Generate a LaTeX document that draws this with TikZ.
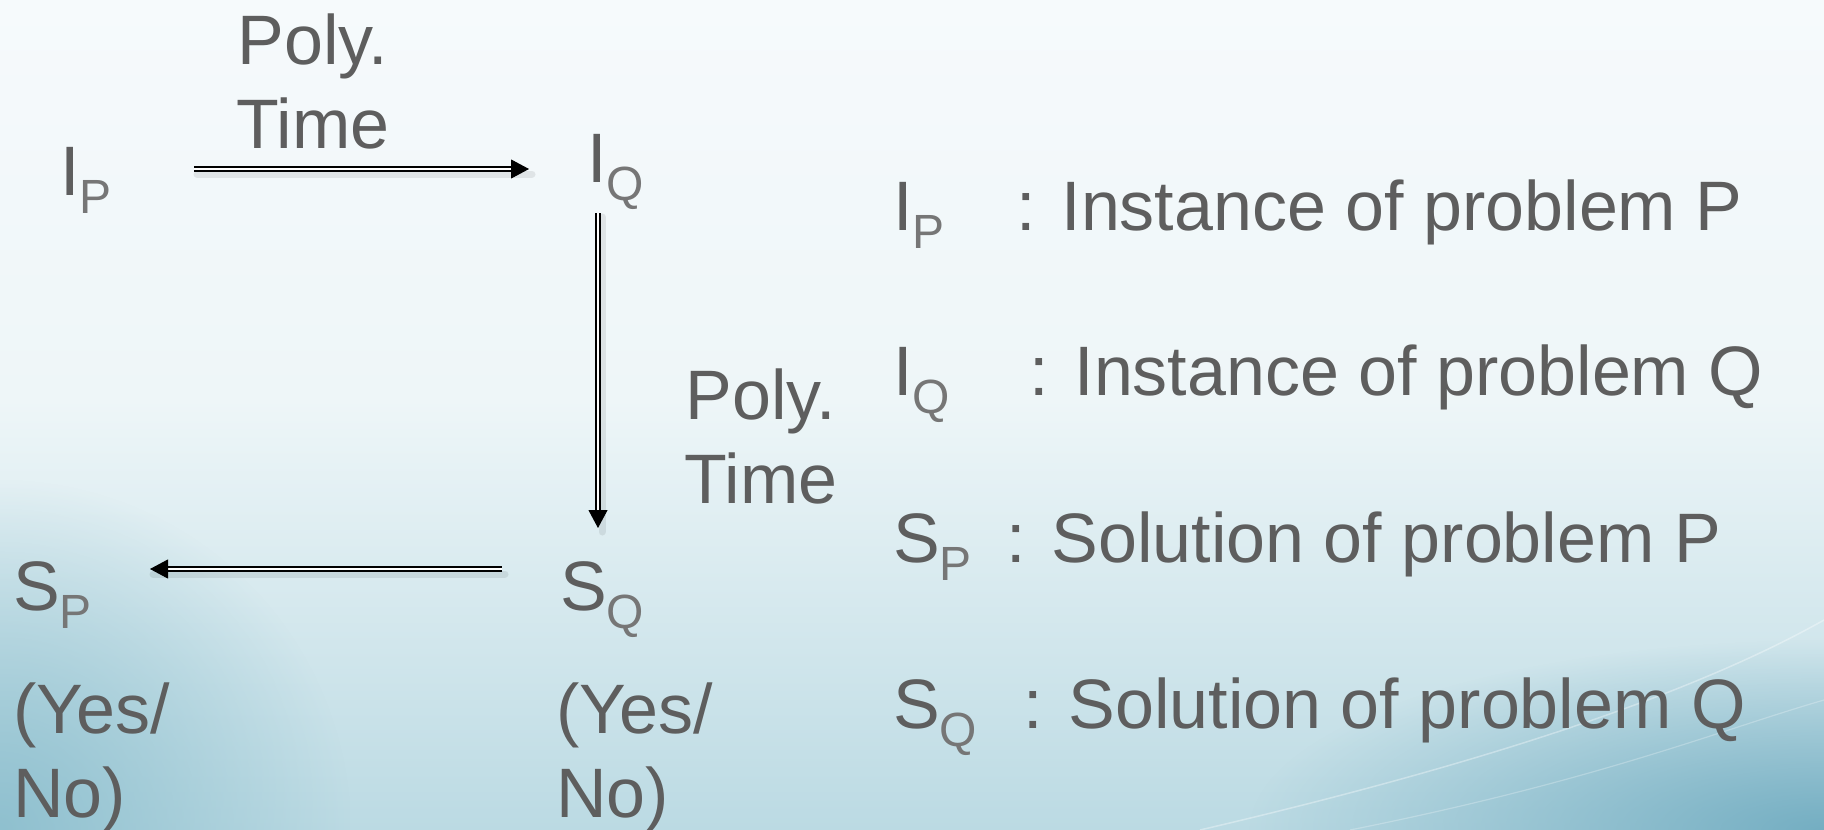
\documentclass[tikz,border=0pt]{standalone}
\usepackage{fontspec}
\setmainfont{Liberation Sans}
\usetikzlibrary{arrows.meta,fadings}
\tikzfading[name=softblob, inner color=transparent!0, outer color=transparent!100]
\definecolor{txt}{HTML}{5E5E5E}
\definecolor{subc}{HTML}{767676}
\definecolor{bgtop}{HTML}{F6FAFC}
\definecolor{bgmid}{HTML}{EEF6F8}
\definecolor{bgbot}{HTML}{BBDAE3}
\definecolor{cornerL}{HTML}{8FC0CF}
\definecolor{cornerR}{HTML}{74AEC2}
\newcommand\bigfont{\fontsize{70}{84}\selectfont}
\newcommand\sbs[1]{\raisebox{-18pt}{\fontsize{48}{48}\selectfont\color{subc}#1}}
\begin{document}
\begin{tikzpicture}[x=1pt,y=-1pt,
  lbl/.style={inner sep=0pt, anchor=base west, text=txt, font=\bigfont},
  twoline/.style={inner sep=0pt, anchor=base, text=txt, font=\bigfont, align=center},
  dbl/.style={draw=black, line width=1.7pt, double=white, double distance=1.8pt},
  tip/.style={-{Triangle[length=18pt,width=19pt]}, line width=1pt, draw=black},
  shadowline/.style={line width=7pt, black, opacity=0.08, line cap=round}]
% background
\begin{scope}
\clip (0,0) rectangle (1824,830);
\shade[top color=bgtop, bottom color=bgmid] (0,0) rectangle (1824,400);
\shade[top color=bgmid, bottom color=bgbot] (0,399) rectangle (1824,830);
\fill[cornerL, path fading=softblob] (-350,480) rectangle (350,1180);
\fill[cornerR, path fading=softblob] (1250,640) rectangle (2400,1020);
\draw[white, opacity=.35, line width=1.5pt] (1200,830) .. controls (1500,760) and (1700,690) .. (1824,620);
\draw[white, opacity=.25, line width=1.2pt] (1350,830) .. controls (1600,780) and (1720,730) .. (1824,700);
\end{scope}
\useasboundingbox (0,0) rectangle (1824,830);

% diagram nodes
\node[lbl] (IP) at (60,195) {I\sbs{P}};
\node[twoline] (t1) at (313,148) {Poly.\\Time};
\node[lbl] (IQ) at (587,182) {I\sbs{Q}};
\node[twoline] (t2) at (761,503) {Poly.\\Time};
\node[lbl] (SP) at (13,610) {S\sbs{P}};
\node[lbl] (SQ) at (560,610) {S\sbs{Q}};
\node[lbl, align=left] (YN1) at (13,817) {(Yes/\\No)};
\node[lbl, align=left] (YN2) at (556,817) {(Yes/\\No)};

% legend
\node[lbl] (lIP) at (893,230) {I\sbs{P}};
\node[lbl] (dIP) at (1016,230) {: Instance of problem P};
\node[lbl] (lIQ) at (893,395) {I\sbs{Q}};
\node[lbl] (dIQ) at (1029,395) {: Instance of problem Q};
\node[lbl] (lSP) at (893,562) {S\sbs{P}};
\node[lbl] (dSP) at (1006,562) {: Solution of problem P};
\node[lbl] (lSQ) at (893,728) {S\sbs{Q}};
\node[lbl] (dSQ) at (1023,728) {: Solution of problem Q};

% arrow coordinates
\coordinate (h1s) at (194,169);
\coordinate (h1b) at (512,169);
\coordinate (h1e) at (529,169);
\coordinate (v1s) at (598,213);
\coordinate (v1b) at (598,511);
\coordinate (v1e) at (598,528);
\coordinate (h2s) at (502,569);
\coordinate (h2b) at (167,569);
\coordinate (h2e) at (150,569);

% shadows
\draw[shadowline] ([shift={(3,5)}]h1s) -- ([shift={(3,5)}]h1e);
\draw[shadowline] ([shift={(4,4)}]v1s) -- ([shift={(4,4)}]v1e);
\draw[shadowline] ([shift={(3,5)}]h2s) -- ([shift={(3,5)}]h2e);

% arrows
\draw[dbl] (h1s) -- (h1b);
\draw[tip] (h1b) -- (h1e);
\draw[dbl] (v1s) -- (v1b);
\draw[tip] (v1b) -- (v1e);
\draw[dbl] (h2s) -- (h2b);
\draw[tip] (h2b) -- (h2e);
\end{tikzpicture}
\end{document}
